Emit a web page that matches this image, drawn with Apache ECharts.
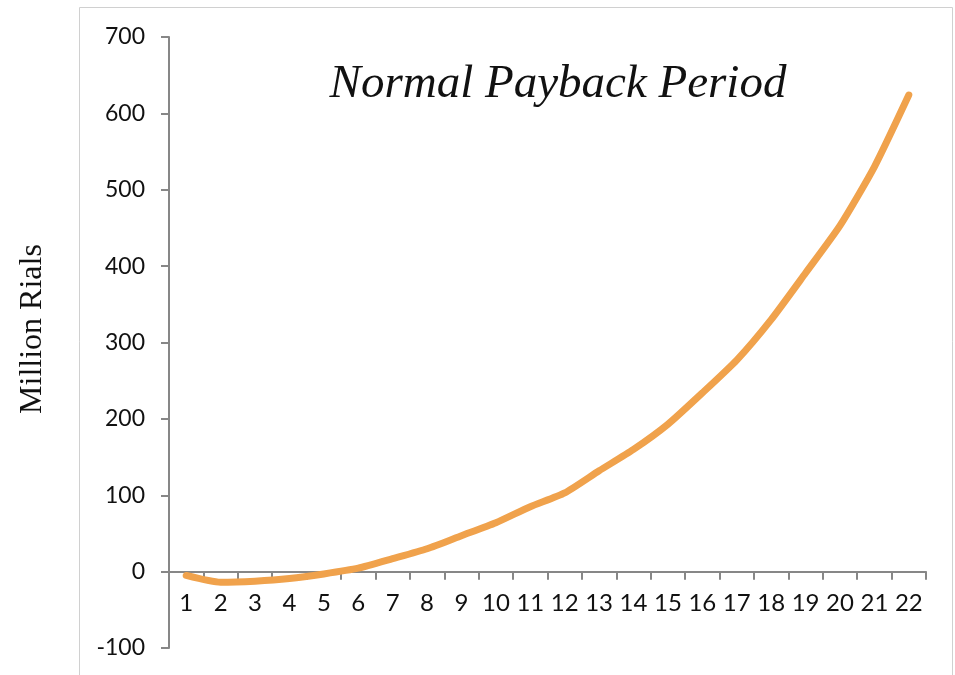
<!DOCTYPE html>
<html>
<head>
<meta charset="utf-8">
<script src="https://cdn.jsdelivr.net/npm/echarts@6/dist/echarts.min.js"></script>
<style>html,body{margin:0;padding:0;background:#fff}#c{width:955px;height:675px}</style>
</head>
<body>
<div id="c"></div>
<script>
const categories = ['1','2','3','4','5','6','7','8','9','10','11','12','13','14','15','16','17','18','19','20','21','22'];
const values = [-5, -14, -12.5, -9, -3, 4.5, 17, 30, 47, 64, 85, 103, 132, 160, 193, 234, 277, 330, 391, 453, 530, 624];
const yTicks = { min: -100, max: 700, interval: 100 };
const titleText = 'Normal Payback Period';
const yAxisName = 'Million Rials';

const chart = echarts.init(document.getElementById('c'), null, { renderer: 'canvas' });
const axisColor = '#878787';
const gridTop = 37, gridBottom = 27, H = 675;
const zeroOffset = -(H - gridTop - gridBottom) * (0 - yTicks.min) / (yTicks.max - yTicks.min);
chart.setOption({
  animation: false,
  backgroundColor: '#ffffff',
  title: {
    text: titleText,
    left: 553, top: 56, textAlign: 'center',
    textStyle: { fontFamily: 'Liberation Serif', fontStyle: 'italic', fontWeight: 'normal', fontSize: 47, color: '#111' }
  },
  graphic: [
    { type: 'rect', shape: { x: 79.5, y: 7.5, width: 873, height: 700 }, style: { fill: 'none', stroke: '#d0d0d0', lineWidth: 1 }, z: -1 },
    { type: 'text', x: 33, y: 329, rotation: Math.PI / 2,
      style: { text: yAxisName, fontFamily: 'Liberation Serif', fontSize: 32, fill: '#111', textAlign: 'center', textVerticalAlign: 'middle' } }
  ],
  grid: { left: 169, right: 29, top: gridTop, bottom: gridBottom, containLabel: false, outerBoundsMode: 'none' },
  xAxis: {
    type: 'category',
    data: categories,
    boundaryGap: true,
    offset: zeroOffset,
    axisLine: { onZero: false, lineStyle: { color: axisColor, width: 2 } },
    axisTick: { show: true, alignWithLabel: false, length: 8, lineStyle: { color: axisColor, width: 2 } },
    axisLabel: { margin: 20, fontFamily: 'Lato', fontSize: 24, color: '#111', interval: 0 },
    splitLine: { show: false }
  },
  yAxis: {
    type: 'value',
    min: yTicks.min, max: yTicks.max, interval: yTicks.interval,
    axisLine: { show: true, lineStyle: { color: axisColor, width: 2 } },
    axisTick: { show: true, length: 8, lineStyle: { color: axisColor, width: 2 } },
    axisLabel: { margin: 24, fontFamily: 'Lato', fontSize: 23, color: '#111' },
    splitLine: { show: false }
  },
  series: [{
    type: 'line',
    data: values,
    symbol: 'none',
    smooth: 0.2,
    lineStyle: { color: '#F0A24C', width: 7, cap: 'round', join: 'round' }
  }]
});
</script>
</body>
</html>
